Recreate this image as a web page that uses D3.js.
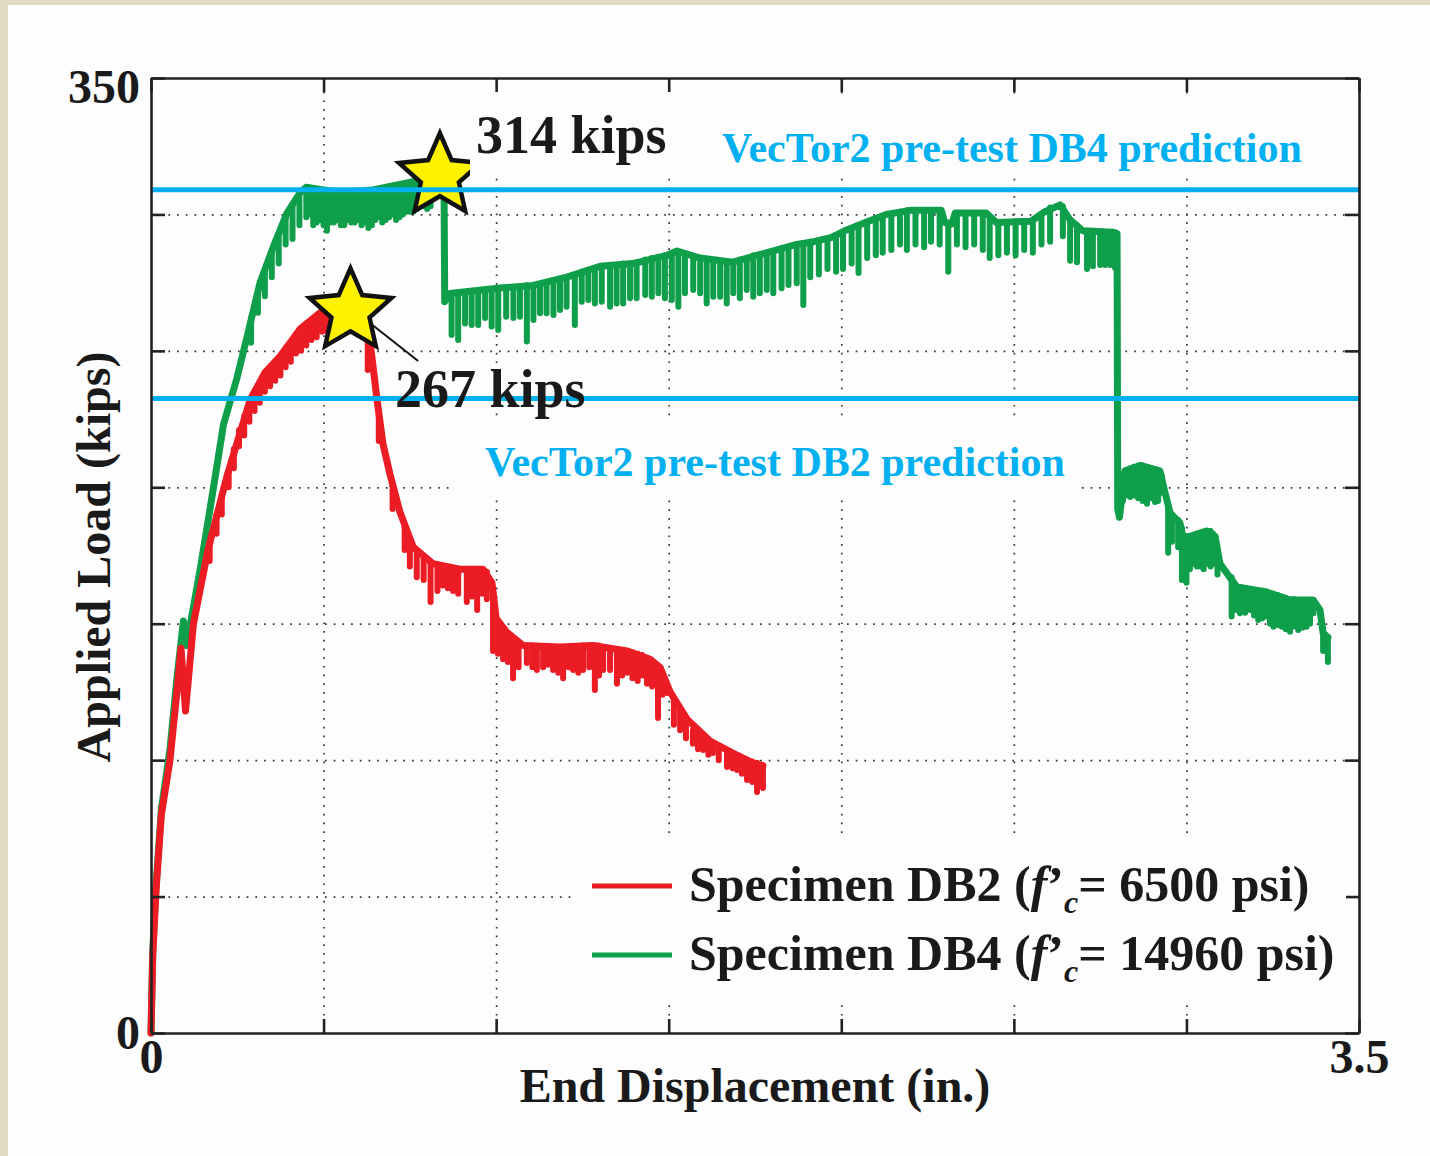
<!DOCTYPE html>
<html>
<head>
<meta charset="utf-8">
<script src="https://cdn.jsdelivr.net/npm/d3@7"></script>
<style>
  html, body { margin: 0; padding: 0; background: #e0dcc6; }
  svg { display: block; }
  text { font-family: "Liberation Serif", "Times New Roman", serif; font-weight: bold; }
</style>
</head>
<body>
<svg id="chart" width="1430" height="1156"></svg>
<script>
// Axis domains, ticks and grid
const dispDomain = [0, 3.5];
const loadDomain = [0, 350];
const xTicks = [0, 0.5, 1.0, 1.5, 2.0, 2.5, 3.0, 3.5];
const yTicks = [0, 50, 100, 150, 200, 250, 300, 350];
const xTickLabels = [0, 3.5];
const yTickLabels = [0, 350];
const xGrid = [0.5, 1.0, 1.5, 2.0, 2.5, 3.0];
const yGrid = [50, 100, 150, 200, 250, 300];

// Specimen DB2: envelope [disp, load] and unloading spikes [disp, top, low]
const db2Envelope = [
    [0, 0], [0.005, 28], [0.0145, 52], [0.03, 80], [0.055, 100], [0.075, 125], [0.087, 141],
    [0.1, 118], [0.123, 150], [0.165, 177], [0.22, 204], [0.287, 232], [0.33, 242], [0.374, 248],
    [0.432, 258], [0.49, 264], [0.536, 266], [0.577, 267], [0.605, 262], [0.62, 256], [0.635, 253],
    [0.655, 232], [0.672, 216], [0.692, 205], [0.721, 191], [0.76, 178], [0.817, 172], [0.895, 170],
    [0.962, 170], [0.988, 165], [1.0, 152], [1.03, 147], [1.078, 142], [1.185, 141.5], [1.28, 142],
    [1.38, 140], [1.446, 137], [1.475, 134], [1.504, 125], [1.553, 115], [1.62, 107], [1.686, 102.6],
    [1.744, 99], [1.773, 98]
];
const db2Spikes = [
    [0.17, 180, 173], [0.19, 190, 183], [0.205, 197, 190],
    [0.225, 206, 200], [0.24, 214, 207], [0.255, 221, 215], [0.27, 226, 219], [0.285, 231, 224],
    [0.30, 235, 228], [0.315, 238, 231], [0.33, 242, 235], [0.345, 243, 237], [0.36, 246, 239],
    [0.375, 248, 241], [0.39, 251, 244], [0.405, 253, 246], [0.42, 256, 249], [0.435, 257, 250],
    [0.45, 260, 252], [0.465, 261, 254], [0.48, 263, 255], [0.495, 264, 257], [0.51, 265, 257],
    [0.525, 265, 259],
    [0.628, 254, 243], [0.66, 228, 217], [0.70, 201, 192], [0.735, 186, 177],
    [0.75, 181, 171], [0.77, 176, 167], [0.79, 174, 166], [0.81, 172, 158], [0.83, 171, 162],
    [0.845, 171, 164], [0.86, 170, 163], [0.875, 170, 162], [0.89, 170, 161], [0.915, 170, 158],
    [0.93, 170, 160], [0.945, 170, 155], [0.96, 170, 161], [0.973, 169, 159],
    [0.991, 163, 140], [1.005, 150, 139], [1.02, 148, 137], [1.034, 146, 136], [1.049, 145, 130],
    [1.065, 143, 134], [1.089, 142, 135.6], [1.105, 142, 134], [1.118, 141.5, 133], [1.136, 141.5, 134],
    [1.15, 141.5, 135], [1.165, 141.5, 133], [1.18, 141.5, 132], [1.194, 141.5, 130], [1.21, 141.5, 134],
    [1.223, 141.5, 133], [1.238, 141.5, 132], [1.252, 142, 133], [1.27, 142, 134], [1.286, 142, 125.7],
    [1.298, 142, 131], [1.31, 141.5, 133], [1.33, 141, 133], [1.35, 140.5, 128], [1.365, 140, 131],
    [1.38, 140, 132], [1.395, 139.5, 130], [1.41, 139, 129], [1.423, 138.5, 131], [1.437, 137.5, 128],
    [1.452, 136, 127], [1.469, 134.5, 115.4], [1.482, 132, 124], [1.495, 128, 124.6],
    [1.515, 122, 113], [1.533, 119, 111], [1.55, 115.5, 108], [1.57, 111, 106], [1.585, 110, 104],
    [1.6, 109, 103.7], [1.615, 107.5, 102], [1.628, 106, 102.6], [1.645, 105, 100], [1.669, 103.5, 97.5],
    [1.685, 102.6, 97], [1.698, 101.5, 96.4], [1.712, 101, 95], [1.727, 100, 92.7], [1.742, 99.5, 92],
    [1.756, 99, 88.3], [1.773, 98, 89.8]
];

// Specimen DB4
const db4Envelope = [
    [0, 0], [0.005, 30], [0.0145, 54], [0.03, 82], [0.055, 104], [0.075, 130], [0.094, 151],
    [0.103, 142], [0.144, 171], [0.185, 203], [0.21, 223], [0.249, 240], [0.278, 255], [0.316, 275],
    [0.354, 288], [0.394, 300.5], [0.432, 308], [0.45, 310], [0.548, 308], [0.643, 309], [0.742, 311.5],
    [0.80, 313], [0.837, 314], [0.849, 312], [0.851, 268], [0.866, 271], [1.011, 273], [1.107, 274],
    [1.205, 277], [1.301, 281], [1.397, 282], [1.495, 285], [1.524, 286.6], [1.591, 284], [1.686, 282.5],
    [1.785, 286], [1.871, 289], [1.92, 290], [1.97, 291.5], [2.01, 294], [2.07, 297], [2.13, 300],
    [2.2, 301.5], [2.29, 301.5], [2.30, 297], [2.32, 296.5], [2.33, 300.5], [2.42, 300.5], [2.45, 297],
    [2.55, 297.5], [2.59, 301], [2.634, 303.5], [2.663, 298], [2.70, 294], [2.787, 293.5], [2.799, 293],
    [2.801, 192], [2.806, 189], [2.822, 206], [2.866, 208], [2.923, 206], [2.938, 198], [2.953, 190.5],
    [2.981, 187], [2.99, 182], [3.01, 182], [3.06, 184], [3.083, 182], [3.097, 172], [3.126, 167],
    [3.146, 163.5], [3.233, 161.6], [3.30, 158.7], [3.367, 158.7], [3.387, 155], [3.396, 146.6], [3.41, 145]
];
const db4Spikes = [
    [0.29, 262, 253], [0.31, 272, 264], [0.33, 279, 270], [0.35, 286, 277], [0.37, 292, 282],
    [0.39, 299, 289], [0.41, 303, 291], [0.43, 307, 296],
    [0.45, 310, 299], [0.46, 309.5, 300], [0.47, 309, 296], [0.48, 309, 297], [0.49, 309, 298],
    [0.50, 309, 296], [0.51, 309, 294], [0.52, 308.5, 297], [0.53, 308, 297], [0.54, 308, 298],
    [0.55, 308, 296], [0.56, 308, 296], [0.57, 308, 298], [0.58, 308, 297], [0.59, 308, 297],
    [0.60, 308, 298], [0.61, 308, 296], [0.62, 308.5, 297], [0.63, 309, 295], [0.64, 309, 296],
    [0.65, 309, 298], [0.66, 309, 299], [0.67, 309.5, 297], [0.68, 310, 298], [0.69, 310, 299],
    [0.70, 310, 300], [0.71, 310, 298], [0.72, 310.5, 299], [0.73, 311, 300], [0.74, 311, 301],
    [0.75, 311.5, 301], [0.76, 312, 301], [0.77, 312, 302], [0.78, 312, 303], [0.79, 312.5, 303],
    [0.80, 313, 302], [0.81, 313, 303],
    [0.871, 271, 255.8], [0.890, 271, 254], [0.910, 271.5, 260], [0.929, 271.5, 259.5], [0.948, 272, 259.5],
    [0.968, 272, 262], [0.987, 272.5, 258.9], [1.006, 273, 257.6], [1.029, 273, 262.5], [1.050, 273.5, 262],
    [1.069, 273.5, 262.5], [1.089, 274, 253.4], [1.108, 274, 261.3], [1.127, 274.5, 263.8], [1.146, 275, 263.8],
    [1.166, 276, 263.1], [1.185, 276.5, 265], [1.204, 277, 266.2], [1.228, 278, 259.5], [1.248, 279, 268],
    [1.267, 279.5, 268.6], [1.286, 280.5, 267.4], [1.306, 281, 268], [1.330, 281.5, 266.2], [1.349, 281.5, 267.4],
    [1.368, 282, 267.4], [1.388, 282, 269.3], [1.407, 282.5, 269.3], [1.432, 283.5, 270.5], [1.451, 284, 269.8],
    [1.470, 284.5, 271.1], [1.489, 285, 269.3], [1.509, 285.5, 268.6], [1.528, 286, 266.2], [1.547, 285.5, 271.1],
    [1.571, 284.5, 272.3], [1.591, 284, 271.1], [1.610, 283.5, 267.4], [1.629, 283, 269.8], [1.649, 283, 269.8],
    [1.668, 282.5, 267.4], [1.687, 282.5, 271.1], [1.706, 283.5, 269.3], [1.726, 284, 272.3], [1.745, 285, 269.8],
    [1.764, 285.5, 271.1], [1.784, 286, 272.3], [1.803, 286.5, 271.1], [1.827, 287.5, 272.9], [1.847, 288, 274.1],
    [1.871, 289, 274.8],
    [1.89, 289.5, 266.8], [1.91, 290, 277], [1.935, 290.5, 278], [1.96, 291, 280], [1.985, 292, 279],
    [2.005, 293.5, 280], [2.03, 295, 282], [2.05, 296, 278.5], [2.075, 297, 284], [2.10, 298.5, 285],
    [2.12, 299.5, 286], [2.145, 300, 287], [2.17, 301, 289], [2.19, 301.5, 287], [2.215, 301.5, 289],
    [2.24, 301.5, 288], [2.26, 301.5, 290], [2.285, 301.5, 289], [2.31, 297, 279], [2.335, 300.5, 289],
    [2.36, 300.5, 288], [2.385, 300.5, 289], [2.41, 300.5, 287], [2.43, 299, 284], [2.455, 297, 285],
    [2.48, 297, 286], [2.505, 297.5, 285], [2.53, 297.5, 287], [2.555, 298, 286], [2.58, 300, 289],
    [2.605, 302.5, 290], [2.642, 303, 292], [2.663, 298, 283], [2.683, 296, 282.5], [2.712, 294, 280],
    [2.729, 294, 281], [2.75, 293.5, 281.5], [2.764, 293.5, 281.5], [2.779, 293.5, 281.5], [2.793, 293, 280.5],
    [2.816, 205, 195], [2.826, 206, 197], [2.837, 207, 196.4], [2.848, 207.5, 197], [2.86, 208, 196],
    [2.873, 208, 195], [2.886, 207.5, 194], [2.898, 207, 196], [2.909, 206.5, 194.6], [2.918, 206, 195],
    [2.929, 204, 198], [2.947, 193, 176], [2.958, 190, 180], [2.976, 188, 178], [2.987, 185, 166],
    [3.0, 182, 165], [3.01, 182, 170], [3.02, 182, 172], [3.03, 182.5, 171], [3.04, 183, 171],
    [3.05, 183.5, 170], [3.06, 184, 172], [3.07, 184, 171], [3.077, 183, 172], [3.09, 176, 168],
    [3.131, 167, 152.6], [3.142, 164, 155], [3.155, 163.5, 153.8], [3.17, 163, 154], [3.184, 162.5, 155],
    [3.196, 162, 153], [3.208, 162, 151.4], [3.22, 161.7, 152], [3.233, 161.5, 152.6], [3.242, 161.2, 150],
    [3.252, 161, 148.9], [3.264, 160.5, 149.5], [3.276, 160, 148.9], [3.288, 159.5, 148], [3.30, 159, 147.1],
    [3.312, 159, 149], [3.324, 158.7, 147.7], [3.336, 158.7, 148.5], [3.348, 158.7, 148.9], [3.358, 158.7, 150],
    [3.368, 158.7, 153.8], [3.396, 147, 140], [3.41, 145, 136]
];

// Pre-test predictions (horizontal lines)
const predictionNames = ["VecTor2 pre-test DB4 prediction", "VecTor2 pre-test DB2 prediction"];
const predictionLoads = [309, 232.5];

// Peak markers
const peakPoints = [[0.837, 314], [0.578, 264.5]];
const peakLabels = ["314 kips", "267 kips"];
const leaderLine = [[0.58, 265.6], [0.774, 246.3]];

// Legend
const seriesNames = ["Specimen DB2", "Specimen DB4"];
const seriesStrength = ["6500", "14960"];
const seriesColors = ["#ec1c24", "#0f9f4b"];

const W = 1430, H = 1156;
const margin = {left: 151, top: 78, right: 71, bottom: 123};
const plotW = W - margin.left - margin.right;
const plotH = H - margin.top - margin.bottom;

const svg = d3.select("#chart");

// page background
svg.append("rect").attr("width", W).attr("height", H).attr("fill", "#e0dcc6");
svg.append("rect").attr("x", 8).attr("y", 5).attr("width", W - 8).attr("height", H - 5).attr("fill", "#fdfdfd");

const x = d3.scaleLinear().domain(dispDomain).range([0, plotW]);
const y = d3.scaleLinear().domain(loadDomain).range([plotH, 0]);

const g = svg.append("g").attr("transform", `translate(${margin.left},${margin.top})`);

// dotted grid
const gridX = g.append("g")
    .attr("transform", `translate(0,${plotH})`)
    .call(d3.axisBottom(x).tickValues(xGrid).tickSize(-plotH).tickFormat(""));
const gridY = g.append("g")
    .call(d3.axisLeft(y).tickValues(yGrid).tickSize(-plotW).tickFormat(""));
[gridX, gridY].forEach(s => {
    s.select(".domain").remove();
    s.selectAll(".tick line")
        .attr("stroke", "#333")
        .attr("stroke-width", 1.7)
        .attr("stroke-dasharray", "1.7 7");
});

// white boxes behind the text labels
const boxes = [
    [470, 92, 220, 86],
    [715, 100, 625, 78],
    [455, 420, 625, 77],
    [576, 836, 770, 168]
];
svg.selectAll("rect.box")
    .data(boxes)
    .enter().append("rect")
    .attr("class", "box")
    .attr("x", d => d[0]).attr("y", d => d[1])
    .attr("width", d => d[2]).attr("height", d => d[3])
    .attr("fill", "#fdfdfd");

// curves: DB4 under DB2
const line = d3.line().x(d => x(d[0])).y(d => y(d[1]));
const series = [
    {env: db4Envelope, spikes: db4Spikes, color: seriesColors[1]},
    {env: db2Envelope, spikes: db2Spikes, color: seriesColors[0]}
];
series.forEach(s => {
    const sg = g.append("g");
    sg.selectAll("line")
        .data(s.spikes)
        .enter().append("line")
        .attr("x1", d => x(d[0])).attr("x2", d => x(d[0]))
        .attr("y1", d => y(d[1])).attr("y2", d => y(d[2]))
        .attr("stroke", s.color)
        .attr("stroke-width", 6)
        .attr("stroke-linecap", "round");
    sg.append("path")
        .datum(s.env)
        .attr("d", line)
        .attr("fill", "none")
        .attr("stroke", s.color)
        .attr("stroke-width", 7)
        .attr("stroke-linejoin", "round")
        .attr("stroke-linecap", "round");
});

// leader line to the 267 kips label
g.append("line")
    .attr("x1", x(leaderLine[0][0])).attr("y1", y(leaderLine[0][1]))
    .attr("x2", x(leaderLine[1][0])).attr("y2", y(leaderLine[1][1]))
    .attr("stroke", "#111")
    .attr("stroke-width", 2);

// stars
const R = 43, r = 20;
const starPts = d3.range(10).map(i => {
    const a = -Math.PI / 2 + i * Math.PI / 5;
    const rad = i % 2 ? r : R;
    return [rad * Math.cos(a), rad * Math.sin(a)];
});
g.selectAll("path.star")
    .data(peakPoints)
    .enter().append("path")
    .attr("class", "star")
    .attr("d", d3.line()(starPts) + "Z")
    .attr("transform", d => `translate(${x(d[0])},${y(d[1])})`)
    .attr("fill", "#fff200")
    .attr("stroke", "#111")
    .attr("stroke-width", 4.5)
    .attr("stroke-linejoin", "miter");

// peak labels
const peakLabelPos = [[476, 153], [395, 407]];
svg.selectAll("text.peak")
    .data(peakLabels)
    .enter().append("text")
    .attr("class", "peak")
    .attr("x", (d, i) => peakLabelPos[i][0])
    .attr("y", (d, i) => peakLabelPos[i][1])
    .attr("font-size", 54)
    .attr("fill", "#1a1a1a")
    .text(d => d);

// prediction lines
g.selectAll("line.pred")
    .data(predictionLoads)
    .enter().append("line")
    .attr("class", "pred")
    .attr("x1", 0).attr("x2", plotW)
    .attr("y1", d => y(d)).attr("y2", d => y(d))
    .attr("stroke", "#00b0f0")
    .attr("stroke-width", 5);

const predLabelPos = [[722, 162], [485, 476]];
svg.selectAll("text.pred")
    .data(predictionNames)
    .enter().append("text")
    .attr("class", "pred")
    .attr("x", (d, i) => predLabelPos[i][0])
    .attr("y", (d, i) => predLabelPos[i][1])
    .attr("font-size", 42)
    .attr("fill", "#00b0f0")
    .text(d => d);

// frame with inward ticks
const frameStyle = s => {
    s.attr("color", "#222").attr("font-size", 48);
    s.select(".domain").attr("stroke-width", 2.6);
    s.selectAll(".tick line").attr("stroke-width", 2.6);
    s.selectAll(".tick text").attr("fill", "#1a1a1a");
};
g.append("g")
    .attr("transform", `translate(0,${plotH})`)
    .call(d3.axisBottom(x).tickValues(xTicks).tickSize(-14).tickSizeOuter(0).tickPadding(6)
        .tickFormat(d => xTickLabels.includes(d) ? d : ""))
    .call(frameStyle);
g.append("g")
    .call(d3.axisTop(x).tickValues(xTicks).tickSize(-14).tickSizeOuter(0).tickFormat(""))
    .call(frameStyle);
const yAxisG = g.append("g")
    .call(d3.axisLeft(y).tickValues(yTicks).tickSize(-14).tickSizeOuter(0).tickPadding(11)
        .tickFormat(d => yTickLabels.includes(d) ? d : ""))
    .call(frameStyle);
yAxisG.selectAll(".tick text").filter(d => d === 350).attr("dy", "0.5em");
g.append("g")
    .attr("transform", `translate(${plotW},0)`)
    .call(d3.axisRight(y).tickValues(yTicks).tickSize(-14).tickSizeOuter(0).tickFormat(""))
    .call(frameStyle);

// axis titles
svg.append("text")
    .attr("x", 755).attr("y", 1102)
    .attr("text-anchor", "middle")
    .attr("font-size", 48)
    .attr("fill", "#1a1a1a")
    .text("End Displacement (in.)");
svg.append("text")
    .attr("transform", "translate(110,557) rotate(-90)")
    .attr("text-anchor", "middle")
    .attr("font-size", 48)
    .attr("fill", "#1a1a1a")
    .text("Applied Load (kips)");

// legend
const legend = svg.selectAll("g.legend")
    .data(seriesNames)
    .enter().append("g")
    .attr("class", "legend")
    .attr("transform", (d, i) => `translate(592,${886 + i * 69})`);
legend.append("line")
    .attr("x1", 0).attr("x2", 80)
    .attr("stroke", (d, i) => seriesColors[i])
    .attr("stroke-width", 5);
const lt = legend.append("text")
    .attr("x", 97).attr("y", 15)
    .attr("font-size", 50)
    .attr("fill", "#1a1a1a");
lt.append("tspan").text(d => d + " (");
lt.append("tspan").attr("font-style", "italic").text("f");
lt.append("tspan").text("\u2019");
lt.append("tspan").attr("font-style", "italic").attr("font-size", 32).attr("dy", 12).text("c");
lt.append("tspan").attr("dy", -12).text((d, i) => "= " + seriesStrength[i] + " psi)");
</script>
</body>
</html>
